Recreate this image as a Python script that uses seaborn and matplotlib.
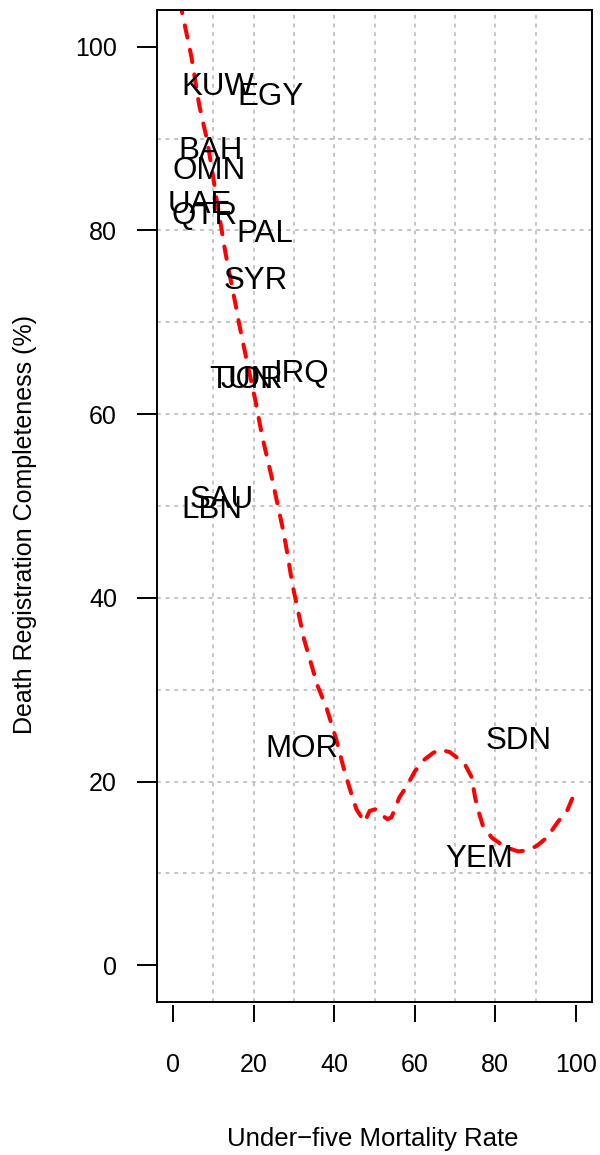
import matplotlib
matplotlib.use("Agg")
import matplotlib.pyplot as plt
from matplotlib.patches import Rectangle
import seaborn as sns
import pandas as pd

# ---- data ----
countries = ["KUW", "EGY", "BAH", "OMN", "UAE", "QTR", "PAL", "SYR",
             "TUN", "JOR", "IRQ", "SAU", "LBN", "MOR", "SDN", "YEM"]
u5mr = [11.1, 24.1, 9.3, 8.9, 6.7, 7.7, 22.8, 20.5,
        16.9, 19.5, 31.8, 12.0, 9.5, 31.9, 85.9, 76.1]
completeness = [96.0, 94.9, 89.0, 86.9, 83.1, 82.0, 80.0, 74.9,
                64.1, 64.1, 64.8, 51.0, 49.9, 23.9, 24.8, 11.9]

fit_x = [1.8, 2.2, 4.5, 6.5, 8.5, 9.7, 10.9, 12.7, 13.4, 15.7, 16.4, 18.2,
         19.7, 20.6, 22.1, 24.6, 27.1, 28.1, 29.6, 32.5, 35.8, 38.1, 40.5,
         42.5, 44.3, 45.5, 47.5, 48.8, 50.3, 52.0, 53.2, 54.2, 56.2, 58.0,
         60.0, 62.4, 64.5, 66.2, 68.7, 70.5, 72.4, 74.1, 75.0, 76.0, 76.9,
         79.1, 82.3, 85.6, 88.0, 90.3, 92.8, 95.5, 97.8, 100.2]
fit_y = [105.0, 103.8, 99.0, 93.6, 89.7, 86.5, 83.1, 78.3, 76.6, 71.5, 69.8,
         66.0, 63.0, 61.1, 57.6, 52.9, 47.8, 45.5, 41.5, 35.5, 30.5, 28.0,
         24.6, 21.2, 18.6, 17.0, 15.6, 16.8, 17.0, 16.3, 15.9, 16.1, 18.3,
         19.5, 21.1, 22.4, 23.1, 23.5, 23.2, 22.6, 21.9, 20.5, 18.2, 16.5,
         15.2, 13.9, 12.9, 12.4, 12.5, 13.0, 13.9, 15.6, 16.8, 19.3]

xticks = [0, 20, 40, 60, 80, 100]
yticks = [0, 20, 40, 60, 80, 100]
grid_vals = [10, 20, 30, 40, 50, 60, 70, 80, 90]

# ---- style ----
sns.set_style("white")
plt.rcParams["font.family"] = ["Liberation Sans", "DejaVu Sans"]
plt.rcParams["text.color"] = "black"
plt.rcParams["xtick.color"] = "black"
plt.rcParams["ytick.color"] = "black"

W, H = 600, 1155
fig = plt.figure(figsize=(W / 100, H / 100), dpi=100)
ax = fig.add_axes([157 / W, 1 - 1002 / H, (592 - 157) / W, (1002 - 10) / H])
ax.set_xlim(-4, 104)
ax.set_ylim(-4, 104)

# grid
for g in grid_vals:
    ax.axvline(g, color="#b8b8b8", lw=1.15, linestyle=(0, (2.4, 3.0)), zorder=0)
    ax.axhline(g, color="#b8b8b8", lw=1.15, linestyle=(0, (2.4, 3.0)), zorder=0)

# smooth fit line
fit_df = pd.DataFrame({"x": fit_x, "y": fit_y})
sns.lineplot(data=fit_df, x="x", y="y", sort=False, estimator=None, ax=ax,
             color="red", lw=2.9, linestyle=(0, (3.1, 3.1)),
             dash_capstyle="round")

# country labels
for c, xv, yv in zip(countries, u5mr, completeness):
    ax.text(xv, yv, c, ha="center", va="center_baseline", fontsize=22.5,
            color="black", zorder=3)

# axes styling
for s in ax.spines.values():
    s.set_visible(False)
ax.spines["bottom"].set_position(("outward", 2.2))
ax.add_patch(Rectangle((0, 0), 1, 1, transform=ax.transAxes, fill=False,
                       lw=1.4, edgecolor="black", clip_on=False, zorder=5))

ax.set_xticks(xticks)
ax.set_yticks(yticks)
ax.set_xticklabels([str(t) for t in xticks])
ax.set_yticklabels([str(t) for t in yticks])
ax.tick_params(axis="x", direction="out", length=12.2, width=1.4, pad=22,
               labelsize=18, bottom=True, top=False, colors="black")
ax.tick_params(axis="y", direction="out", length=14.4, width=1.4, pad=14.4,
               labelsize=18, left=True, right=False, colors="black")
ax.set_xlabel("")
ax.set_ylabel("")
ax.grid(False)

fig.text(373 / W, 1 - 1139 / H, "Under\u2212five Mortality Rate",
         ha="center", va="center", fontsize=18.5, color="black")
fig.text(25 / W, 1 - 524 / H, "Death Registration Completeness (%)",
         ha="center", va="center", rotation=90, fontsize=18, color="black")

fig.savefig("out.png", dpi=100, facecolor="white")
